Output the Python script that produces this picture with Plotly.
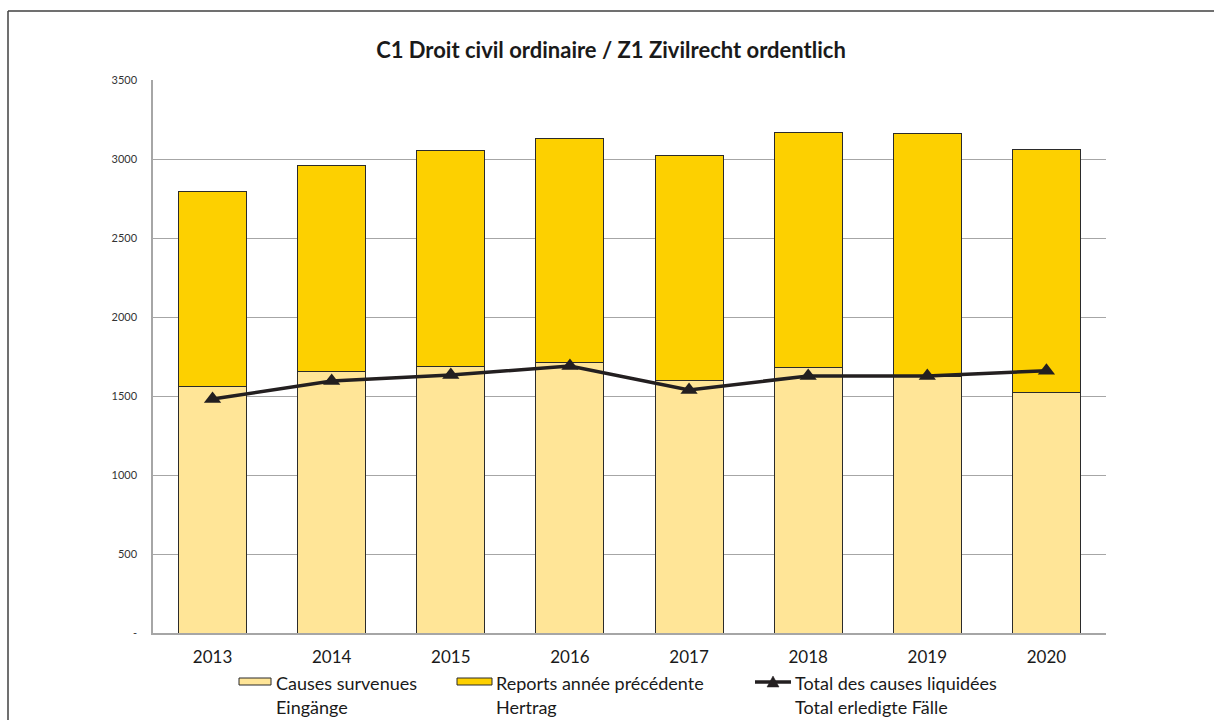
import plotly.graph_objects as go

# Civil law caseload per year
years = ["2013", "2014", "2015", "2016", "2017", "2018", "2019", "2020"]
incoming = [1563, 1652, 1684, 1709, 1601, 1683, 1625, 1523]      # Causes survenues / Eingänge
carried_over = [1234, 1310, 1367, 1418, 1424, 1486, 1537, 1538]  # Reports année précédente / Hertrag
settled = [1481, 1595, 1633, 1690, 1538, 1627, 1627, 1660]       # Total des causes liquidées

y_ticks = [0, 500, 1000, 1500, 2000, 2500, 3000, 3500]
y_tick_text = ["-", "500", "1000", "1500", "2000", "2500", "3000", "3500"]

FONT = "Lato"
C_IN = "#FFE597"
C_CARRY = "#FDD000"
C_EDGE = "#2B2B2B"
C_LINE = "#231F20"

W, H = 1214, 720
L, R, T, B = 153, 108, 80, 87
PW, PH = W - L - R, H - T - B


def px(x):
    return (x - L) / PW


def py(y):
    return (H - B - y) / PH


fig = go.Figure()
fig.add_trace(go.Bar(x=years, y=incoming, name="Causes survenues",
                     marker=dict(color=C_IN, line=dict(color=C_EDGE, width=1)),
                     showlegend=False))
fig.add_trace(go.Bar(x=years, y=carried_over, name="Reports année précédente",
                     marker=dict(color=C_CARRY, line=dict(color=C_EDGE, width=1)),
                     showlegend=False))
fig.add_trace(go.Scatter(x=years, y=settled, mode="lines+markers",
                         name="Total des causes liquidées",
                         line=dict(color=C_LINE, width=3.5),
                         marker=dict(symbol="triangle-up", size=15, color=C_LINE),
                         showlegend=False))

shapes = [
    # frame around the chart
    dict(type="line", xref="paper", yref="paper", x0=px(8), x1=px(1214), y0=py(11), y1=py(11),
         line=dict(color="#404040", width=1.5)),
    dict(type="line", xref="paper", yref="paper", x0=px(8), x1=px(8), y0=py(11), y1=py(720),
         line=dict(color="#404040", width=1.5)),
    # legend swatches
    dict(type="rect", xref="paper", yref="paper", x0=px(239), x1=px(271), y0=py(678), y1=py(685),
         fillcolor=C_IN, line=dict(color=C_EDGE, width=1)),
    dict(type="rect", xref="paper", yref="paper", x0=px(457), x1=px(492), y0=py(678), y1=py(685),
         fillcolor=C_CARRY, line=dict(color=C_EDGE, width=1)),
    dict(type="line", xref="paper", yref="paper", x0=px(755), x1=px(791), y0=py(682), y1=py(682),
         line=dict(color=C_LINE, width=3.5)),
    dict(type="path", xref="paper", yref="paper",
         path=f"M {px(767)},{py(687)} L {px(779)},{py(687)} L {px(773)},{py(676)} Z",
         fillcolor=C_LINE, line=dict(color=C_LINE, width=0.5)),
]

legend_font = dict(family=FONT, size=18, color="#1A1A1A")
annotations = []
for x0, t1, t2 in [(274, "Causes survenues", "Eingänge"),
                   (494, "Reports année précédente", "Hertrag"),
                   (793, "Total des causes liquidées", "Total erledigte Fälle")]:
    for yy, txt in [(683, t1), (707, t2)]:
        annotations.append(dict(xref="paper", yref="paper", x=px(x0), y=py(yy),
                                xanchor="left", yanchor="middle", text=txt,
                                showarrow=False, font=legend_font))

fig.update_layout(
    width=W, height=H,
    margin=dict(l=L, r=R, t=T, b=B, autoexpand=False),
    barmode="stack", bargap=0.43,
    plot_bgcolor="white", paper_bgcolor="white",
    title=dict(text="<b>C1 Droit civil ordinaire / Z1 Zivilrecht ordentlich</b>",
               x=611 / W, xref="container", xanchor="center",
               y=1 - 50 / H, yanchor="middle",
               font=dict(family=FONT, size=22, color="#1A1A1A")),
    xaxis=dict(showgrid=False, showline=True, linecolor="#A6A6A6", linewidth=1.5,
               tickfont=dict(family=FONT, size=17, color="#1A1A1A"), ticks="",
               ticklabelstandoff=8),
    yaxis=dict(range=[0, 3500], tickvals=y_ticks, ticktext=y_tick_text,
               showgrid=True, gridcolor="#A6A6A6", gridwidth=1,
               showline=True, linecolor="#A6A6A6", linewidth=1.5, zeroline=False,
               tickfont=dict(family=FONT, size=11, color="#333333"), ticks="",
               ticklabelstandoff=12),
    shapes=shapes, annotations=annotations,
)

fig.write_html("out.html")
